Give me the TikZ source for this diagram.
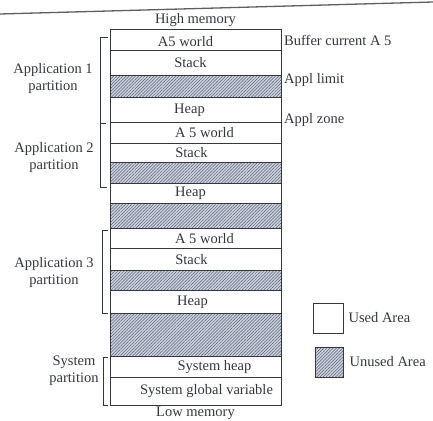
\documentclass[tikz,border=0pt]{standalone}
\usepackage{fontspec}
\setmainfont{Liberation Serif}
\usetikzlibrary{positioning, patterns.meta}
\definecolor{mink}{HTML}{34373E}
\definecolor{mhatch}{HTML}{56607A}
\definecolor{mhatchbg}{HTML}{CDD2DC}
\tikzset{
  memrow/.style={draw=mink, line width=0.8pt, minimum width=171pt,
                 inner sep=0pt, anchor=north},
  used/.style={memrow, fill=white},
  unused/.style={memrow, preaction={fill=mhatchbg},
                 pattern={Lines[angle=45, distance=2.2pt, line width=0.5pt]},
                 pattern color=mhatch},
  txt/.style={font=\fontsize{14.5}{17}\selectfont, text=mink, inner sep=1pt},
  side/.style={txt, align=center},
  brack/.style={draw=mink, line width=0.8pt},
}
\begin{document}
\begin{tikzpicture}[x=1pt, y=-1pt]
  \useasboundingbox (0,0) rectangle (433,420);
  % scan edge at the top
  \draw[mink!80, line width=1.3pt] (0,14) -- (433,2);

  % memory column, high to low
  \node[used,   minimum height=21pt] (r1)  at (195.5,29)  {};
  \node[used,   minimum height=25pt] (r2)  at (195.5,50)  {};
  \node[unused, minimum height=22pt] (r3)  at (195.5,75)  {};
  \node[used,   minimum height=25pt] (r4)  at (195.5,97)  {};
  \node[used,   minimum height=21pt] (r5)  at (195.5,122) {};
  \node[used,   minimum height=19pt] (r6)  at (195.5,143) {};
  \node[unused, minimum height=21pt] (r7)  at (195.5,162) {};
  \node[used,   minimum height=20pt] (r8)  at (195.5,183) {};
  \node[unused, minimum height=25pt] (r9)  at (195.5,203) {};
  \node[used,   minimum height=20pt] (r10) at (195.5,228) {};
  \node[used,   minimum height=22pt] (r11) at (195.5,248) {};
  \node[unused, minimum height=20pt] (r12) at (195.5,270) {};
  \node[used,   minimum height=23pt] (r13) at (195.5,290) {};
  \node[unused, minimum height=43pt] (r14) at (195.5,313) {};
  \node[used,   minimum height=21pt] (r15) at (195.5,356) {};
  \node[used,   minimum height=28pt] (r16) at (195.5,377) {};

  \node[txt] (t1)  at ([xshift=-10pt, yshift=-2pt]r1.center) {A5 world};
  \node[txt] (t2)  at ([xshift=-5pt]r2.center)  {Stack};
  \node[txt] (t4)  at ([xshift=-6pt]r4.center)  {Heap};
  \node[txt] (t5)  at ([xshift=9pt]r5.center)   {A 5 world};
  \node[txt] (t6)  at ([xshift=-4pt]r6.center)  {Stack};
  \node[txt] (t8)  at ([xshift=-5pt]r8.center)  {Heap};
  \node[txt] (t10) at ([xshift=9pt]r10.center)  {A 5 world};
  \node[txt] (t11) at ([xshift=-4pt]r11.center) {Stack};
  \node[txt] (t13) at ([xshift=-3pt]r13.center) {Heap};
  \node[txt] (t15) at ([xshift=19pt]r15.center) {System heap};
  \node[txt] (t16) at ([xshift=11pt]r16.center) {System global variable};

  \node[txt, above=1pt of r1] (high) {High memory};
  \node[txt, below=0pt of r16] (low) {Low memory};

  % partition brackets
  \draw[brack] (108,37) -- (100,37) -- (100,187) -- (107,187);
  \draw[brack] (100,123) -- (106,123);
  \draw[brack] (108,230) -- (102,230) -- (102,313) -- (108,313);
  \draw[brack] (108,357) -- (103,357) -- (103,405) -- (108,405);

  \node[side] (app1) at (53,79)  {Application 1\\partition};
  \node[side] (app2) at (54,158) {Application 2\\partition};
  \node[side] (app3) at (54,273) {Application 3\\partition};
  \node[side] (sys)  at (74,371) {System\\partition};

  % pointers on the right
  \node[txt, anchor=west] (buf)   at (283,40)  {Buffer current A 5};
  \node[txt, anchor=west] (limit) at (283,80)  {Appl limit};
  \node[txt, anchor=west] (zone)  at (283,120) {Appl zone};

  % key
  \node[used, anchor=center, minimum width=30pt, minimum height=30pt] (kused) at (328,318) {};
  \node[unused, anchor=center, minimum width=28pt, minimum height=30pt] (kfree) at (329,362) {};
  \node[txt, right=4pt of kused] (lused) {Used Area};
  \node[txt, right=5pt of kfree] (lfree) {Unused Area};
\end{tikzpicture}
\end{document}
